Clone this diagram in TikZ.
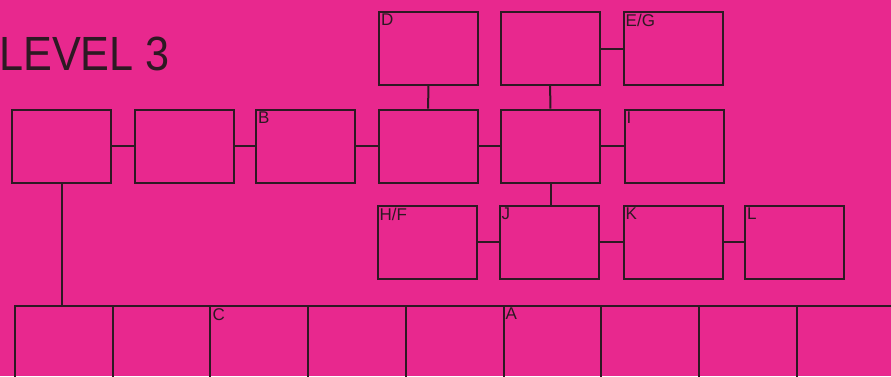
\documentclass[tikz,border=0pt]{standalone}
\usepackage{fontspec}
\setmainfont{Liberation Sans}
\usepackage{tikz}
\usetikzlibrary{positioning}
\definecolor{RosaFondo}{RGB}{232,40,142}
\definecolor{TintaOscura}{RGB}{45,25,35}

\begin{document}
\begin{tikzpicture}[x=1pt,y=-1pt,
  box/.style={draw=TintaOscura,line width=2pt,minimum width=99pt,minimum height=73pt,inner sep=0pt},
  cell/.style={draw=TintaOscura,line width=2pt,minimum width=97.7pt,minimum height=110pt,inner sep=0pt,anchor=north west},
  tag/.style={anchor=north west,inner sep=3pt,font=\fontsize{17}{17}\selectfont,text=TintaOscura},
  wire/.style={draw=TintaOscura,line width=2pt}]
  \fill[RosaFondo] (0,0) rectangle (891,376);
  \useasboundingbox (0,0) rectangle (891,376);
  \node[anchor=base west,inner sep=0pt,text=TintaOscura,xscale=0.9,font=\fontsize{48}{48}\selectfont] (titulo) at (-1,70) {LEVEL 3};
  \node[box] (d) at (428.5,48) {};
  \node[box] (sup) at (550,48.5) {};
  \node[box] (eg) at (673,48.5) {};
  \node[box] (m1) at (61.5,146) {};
  \node[box] (m2) at (184,146) {};
  \node[box] (b) at (305.5,146) {};
  \node[box] (m4) at (428,146) {};
  \node[box] (m5) at (550.5,146) {};
  \node[box] (i) at (674,146) {};
  \node[box] (hf) at (427,242) {};
  \node[box] (j) at (549,242) {};
  \node[box] (k) at (673,242) {};
  \node[box] (l) at (794.5,242) {};
  \foreach \n in {0,...,8}
    \node[cell] (c\n) at (14+97.7*\n,305) {};
  \draw[wire] (c8.north east) -- ++(20,0);
  \node[tag] at (d.north west) {D};
  \node[tag] at (eg.north west) {E/G};
  \node[tag] at (b.north west) {B};
  \node[tag] at (i.north west) {I};
  \node[tag] at (hf.north west) {H/F};
  \node[tag] at (j.north west) {J};
  \node[tag] at (k.north west) {K};
  \node[tag] at (l.north west) {L};
  \node[tag] at (c2.north west) {C};
  \node[tag] at (c5.north west) {A};
  \draw[wire] (sup) -- (eg);
  \draw[wire] (d) -- (m4);
  \draw[wire] (sup) -- (m5);
  \draw[wire] (m1) -- (m2);
  \draw[wire] (m2) -- (b);
  \draw[wire] (b) -- (m4);
  \draw[wire] (m4) -- (m5);
  \draw[wire] (m5) -- (i);
  \draw[wire] (m5.south) -- (m5.south |- j.north);
  \draw[wire] (hf) -- (j);
  \draw[wire] (j) -- (k);
  \draw[wire] (k) -- (l);
  \draw[wire] (m1.south) -- (m1.south |- c0.north);
\end{tikzpicture}
\end{document}
